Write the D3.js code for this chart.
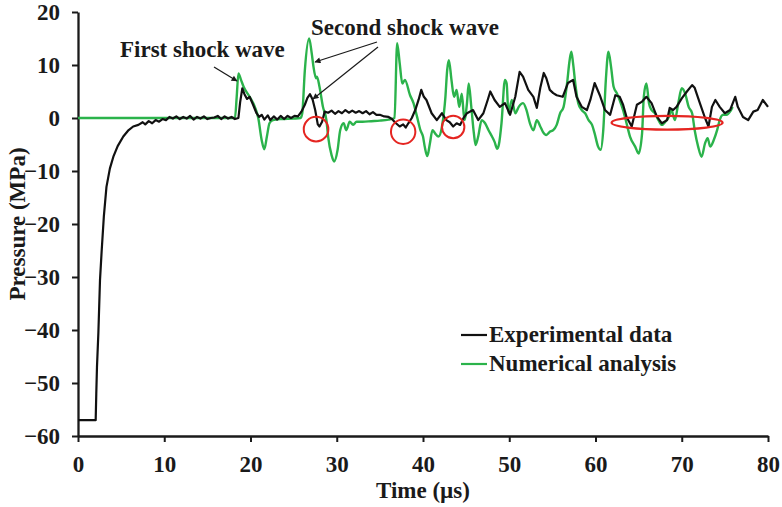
<!DOCTYPE html>
<html>
<head>
<meta charset="utf-8">
<script src="https://cdn.jsdelivr.net/npm/d3@7"></script>
<style>
  html, body { margin: 0; padding: 0; background: #fff; }
  svg text { font-family: "Liberation Serif", "Times New Roman", serif; font-weight: bold; fill: #1a1a1a; }
</style>
</head>
<body>
<svg id="chart" width="782" height="507"></svg>
<script>
// ---- Data ----
const xTicks = [0, 10, 20, 30, 40, 50, 60, 70, 80];
const yTicks = [20, 10, 0, -10, -20, -30, -40, -50, -60];

const seriesNames = ["Experimental data", "Numerical analysis"];

const expTime = [0,2.05,2.12,2.2,2.36,2.55,2.75,3.0,3.3,3.7,4.1,4.6,5.25,5.8,6.4,7.0,7.5,7.8,8.2,8.6,9.0,9.4,9.8,10.2,10.6,11,11.4,11.8,12.2,12.6,13,13.4,13.8,14.2,14.6,15,15.4,15.8,16.2,16.6,17,17.4,17.8,18.2,18.6,18.8,19.05,19.3,19.6,19.9,20.3,20.7,21,21.3,21.6,22,22.3,22.7,23.1,23.5,23.9,24.3,24.7,25.1,25.5,25.9,26.3,26.6,26.9,27.2,27.5,27.8,28.0,28.3,28.6,29,29.4,29.8,30.2,30.6,31,31.4,31.8,32.2,32.6,33,33.4,33.8,34.2,34.6,35,35.5,36,36.4,36.8,37.3,37.7,38.0,38.3,38.7,39.1,39.5,39.8,40.1,40.4,41,41.6,42.2,42.7,43.1,43.5,43.9,44.3,44.7,45.1,45.8,46.4,47,47.5,47.8,48.3,48.9,49.5,50.1,50.7,51.2,51.6,52.2,52.8,53.2,53.6,54,54.3,54.7,55.1,55.5,56.2,56.8,57.4,57.8,58.4,59,59.4,59.9,60.5,61.1,61.7,62.3,62.8,63.2,63.6,64.2,64.8,65.4,65.9,66.5,67.1,67.7,68.3,68.6,69,69.4,70,70.6,71.2,71.5,72.1,72.7,73.1,73.5,73.9,74.4,75,75.6,76.2,76.5,77.1,77.7,78.3,78.8,79.4,80];
const expPressure = [-57,-57,-52,-47,-40.6,-30.6,-24.9,-18.5,-13,-9.5,-7.3,-5.3,-3.5,-2.4,-1.6,-1.3,-0.8,-1.2,-0.6,-1.0,-0.4,-0.7,-0.2,-0.4,0.2,-0.1,0.3,-0.2,0.2,-0.1,0.4,-0.3,0.2,-0.1,0.3,-0.2,0,0.1,0.4,-0.2,0.3,-0.1,0.2,-0.2,0,3,5.6,4.5,3.6,4,2.5,0.9,0.2,0.6,-0.3,0.5,-0.4,0.3,-0.3,0.4,-0.2,0.4,0,0.4,0.3,1.2,2.5,3.8,4.5,3.5,1.5,-1.2,-1.6,-0.7,1.2,1.0,1.4,0.8,1.3,0.9,1.5,1.0,1.4,1.0,1.3,0.9,1.3,0.7,1.1,0.6,0.6,0.3,0.2,-0.2,-0.9,-1.6,-1.2,-1.8,-1.0,0,1.5,3.5,5.3,4.0,3.4,0.9,-0.4,0.9,-0.4,-0.8,-1.6,-1.0,-1.3,0,0.9,1.5,-0.4,0.9,3.4,5.0,3.4,2.1,2.8,0.6,4,8.7,7.8,5.3,4,1.9,5.7,8.5,7.5,5.3,4.7,4.3,4,6.6,7.2,4,2.1,1.5,3.4,6.6,4.3,1.5,0.6,4.3,4,2.5,0.2,-1.6,2.5,3.1,4,2.8,0.3,-1,-0.4,1.9,1.5,2.1,3.7,5,6.2,5.7,2.8,0,-1.6,2.1,3.4,2.1,0.9,1.5,4,2.1,0.2,-0.4,1.2,1.5,3.4,2.1];

const numTime = [0,18.2,18.4,18.6,18.9,19.2,19.9,20.5,20.9,21.3,21.6,21.9,22.2,22.6,23.5,25,25.8,26,26.3,26.8,27.1,27.3,27.6,27.7,28,28.4,28.8,29,29.4,29.7,30.1,30.4,30.8,31.1,31.5,31.9,32.3,33,34,35,36,36.7,37,37.3,37.6,37.9,38.5,38.9,39.3,39.7,40,40.2,40.5,40.8,41.1,41.4,41.8,42.2,42.6,42.8,43,43.3,43.6,43.9,44.2,44.5,44.8,45.1,45.3,45.6,45.9,46.1,46.4,46.8,47.2,47.6,48.0,48.3,48.6,48.8,49.1,49.5,49.7,49.9,50.3,50.7,51.1,51.6,52,52.4,52.8,53.2,53.6,53.9,54.3,54.7,55.1,55.5,55.9,56.3,56.7,57,57.2,57.4,57.7,58,58.4,58.8,59.2,59.6,59.9,60.3,60.6,60.9,61.2,61.5,61.8,62.1,62.5,62.8,63.2,63.6,64,64.6,65,65.4,65.6,65.9,66.2,66.5,66.9,67.3,67.7,68.1,68.5,68.8,69.2,69.6,70,70.4,70.8,71.2,71.5,71.9,72.3,72.7,73,73.3,73.7,74.1,74.4,74.8,75.2,75.6,75.9];
const numPressure = [0,0,4,8.4,7.2,5.9,4,2.1,0,-4.2,-5.9,-3.5,-1,-0.4,-0.2,-0.1,0,0.9,9,15,12.2,9.7,7.5,7.8,5.9,2.1,-0.4,-3.5,-7,-8.2,-6,-2.3,-1,-2.3,-0.7,-1.3,-0.7,-0.7,-0.6,-0.5,-0.3,0,14.1,10.3,6.5,7.2,4.3,2.8,0.3,-2.3,-3.5,-5.4,-7.2,-4.8,-2.3,-2.9,-3.5,-1.6,4,9,10.9,7.2,4,5.3,2.1,4.6,-0.4,2.8,6.5,2.1,-2.9,-5.1,-3.5,-0.4,-1,-2.3,-3.5,-4.5,-5.8,-5,-1,7.2,6.5,0.9,3.4,0.9,2.1,2.8,1.5,-1,-2.3,-0.4,-1.6,-2.6,-3.2,-2.6,-2.3,-1.3,0.9,2.1,6.5,10.9,12.5,10.3,5.9,2.8,1.5,0.9,-0.4,-1.3,-2.9,-5.4,-6,-2.3,7.2,12.5,9.7,5.9,4.6,3.4,1.5,-1,-3.5,-5.4,-6.7,-2.9,4,6.5,2.8,1.5,0.9,-0.4,-1.3,-0.7,0.2,1.5,-0.4,2.8,5.6,4.6,2.1,0.9,-2.3,-5.4,-7.3,-4.8,-3.8,-5.4,-4.2,-2.3,-0.4,0.6,0.6,1.2,2.1];

// Red highlight marks (time, pressure) in data units
const circleTime = [27.6, 37.7, 43.5];
const circlePressure = [-2.1, -2.6, -1.7];
const ellipseTime = [68.3];
const ellipsePressure = [-0.9];

// ---- Drawing ----
const svg = d3.select("#chart");
const x = d3.scaleLinear().domain([0, 80]).range([78, 768]);
const y = d3.scaleLinear().domain([-60, 20]).range([436, 12]);

const green = "#2bb34b";
const red = "#e52521";
const fs = "23px";

const defs = svg.append("defs");
defs.append("marker")
  .attr("id", "arrow")
  .attr("viewBox", "0 0 10 10")
  .attr("refX", 9).attr("refY", 5)
  .attr("markerWidth", 7).attr("markerHeight", 6)
  .attr("markerUnits", "userSpaceOnUse")
  .attr("orient", "auto")
  .append("path").attr("d", "M0,0 L10,5 L0,10 z").attr("fill", "#1a1a1a");

// axes
const xAxis = d3.axisBottom(x).tickValues(xTicks).tickSize(6).tickSizeOuter(0).tickPadding(14);
const yAxis = d3.axisLeft(y).tickValues(yTicks).tickSize(6).tickSizeOuter(0).tickPadding(12);

const gx = svg.append("g").attr("transform", `translate(0,${y(-60)})`).call(xAxis);
const gy = svg.append("g").attr("transform", `translate(${x(0)},0)`).call(yAxis);
[gx, gy].forEach(g => {
  g.selectAll("path.domain").attr("stroke", "#1a1a1a").attr("stroke-width", 2.3);
  g.selectAll(".tick line").attr("stroke", "#1a1a1a").attr("stroke-width", 2);
  g.selectAll(".tick text").style("font-size", fs).style("font-family", "'Liberation Serif', serif").style("font-weight", "bold").attr("fill", "#1a1a1a");
});

// lines
const expData = expTime.map((t, i) => [t, expPressure[i]]);
const numData = numTime.map((t, i) => [t, numPressure[i]]);

const lineExp = d3.line().x(d => x(d[0])).y(d => y(d[1]));
const lineNum = d3.line().x(d => x(d[0])).y(d => y(d[1])).curve(d3.curveMonotoneX);

svg.append("path").datum(numData)
  .attr("d", lineNum).attr("fill", "none").attr("stroke", green).attr("stroke-width", 2.4).attr("stroke-linejoin", "round");
svg.append("path").datum(expData)
  .attr("d", lineExp).attr("fill", "none").attr("stroke", "#111").attr("stroke-width", 2.2).attr("stroke-linejoin", "round");

// red circles and ellipse
circleTime.forEach((t, i) => {
  svg.append("circle").attr("cx", x(t)).attr("cy", y(circlePressure[i]))
    .attr("r", [12.3, 12.2, 11.2][i]).attr("fill", "none").attr("stroke", red).attr("stroke-width", 2);
});
ellipseTime.forEach((t, i) => {
  svg.append("ellipse").attr("cx", x(t)).attr("cy", y(ellipsePressure[i]))
    .attr("rx", 55.5).attr("ry", 6.8).attr("fill", "none").attr("stroke", red).attr("stroke-width", 2.2);
});

// annotations
svg.append("text").attr("x", 120).attr("y", 57).style("font-size", fs).text("First shock wave");
svg.append("text").attr("x", 311).attr("y", 35).style("font-size", fs).text("Second shock wave");

const arrows = [
  [214, 67, 237, 81],
  [377, 42, 315, 62],
  [378, 47, 313, 99]
];
arrows.forEach(a => {
  svg.append("line").attr("x1", a[0]).attr("y1", a[1]).attr("x2", a[2]).attr("y2", a[3])
    .attr("stroke", "#1a1a1a").attr("stroke-width", 1.3).attr("marker-end", "url(#arrow)");
});

// axis titles
svg.append("text").attr("x", 423).attr("y", 498).attr("text-anchor", "middle").style("font-size", fs).text("Time (µs)");
svg.append("text").attr("transform", `translate(25,${(y(20) + y(-60)) / 2}) rotate(-90)`)
  .attr("text-anchor", "middle").style("font-size", fs).text("Pressure (MPa)");

// legend
const legendColors = ["#111", green];
seriesNames.forEach((name, i) => {
  const ly = 335 + i * 29;
  svg.append("line").attr("x1", 461).attr("x2", 487).attr("y1", ly).attr("y2", ly)
    .attr("stroke", legendColors[i]).attr("stroke-width", 2.2);
  svg.append("text").attr("x", 489).attr("y", ly + 7).style("font-size", fs).text(name);
});
</script>
</body>
</html>
